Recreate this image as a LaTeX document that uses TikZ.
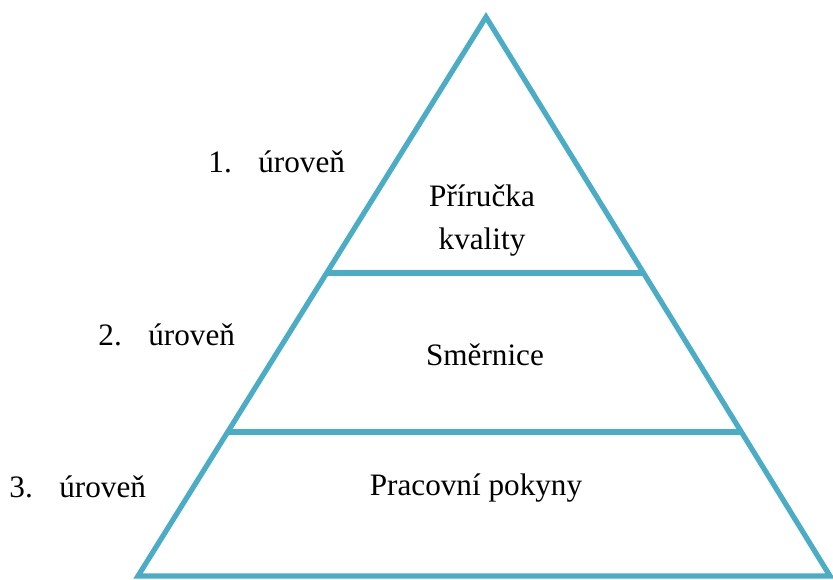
\documentclass[tikz,border=0pt]{standalone}
\usepackage{fontspec}
\setmainfont{Liberation Serif}
\usetikzlibrary{positioning,calc}
\definecolor{pyrblue}{HTML}{4BACC6}

\begin{document}
\begin{tikzpicture}[x=0.5pt,y=-0.5pt,
		edge/.style={draw=pyrblue,line width=2.6pt},
		lvl/.style={font=\fontsize{15.6}{21.5}\selectfont,align=center,inner sep=0pt},
		tag/.style={font=\fontsize{15.6}{18.5}\selectfont,anchor=west,inner sep=0pt}]
		\useasboundingbox (0,0) rectangle (833,579);
		\coordinate (apex) at (486,17);
		\coordinate (bl) at (138,576);
		\coordinate (br) at (830,576);
		\coordinate (l_1) at ($(apex)!256/559!(bl)$);
		\coordinate (r_1) at ($(apex)!256/559!(br)$);
		\coordinate (l_2) at ($(apex)!415/559!(bl)$);
		\coordinate (r_2) at ($(apex)!415/559!(br)$);
		
		\draw[edge,line join=miter] (apex) -- (br) -- (bl) -- cycle;
		\draw[edge] (l_1) -- (r_1);
		\draw[edge] (l_2) -- (r_2);
		
		\node[lvl] (q_1) at (482,221) {Příručka\\kvality};
		\node[lvl] (q_2) at (485,355) {Směrnice};
		\node[lvl] (q_3) at (476,488) {Pracovní pokyny};
		
		\node[tag] (t_1) at (208,162) {1.\hspace{0.85em}úroveň};
		\node[tag] (t_2) at (98,335) {2.\hspace{0.85em}úroveň};
		\node[tag] (t_3) at (9,487) {3.\hspace{0.85em}úroveň};
	\end{tikzpicture}
\end{document}
